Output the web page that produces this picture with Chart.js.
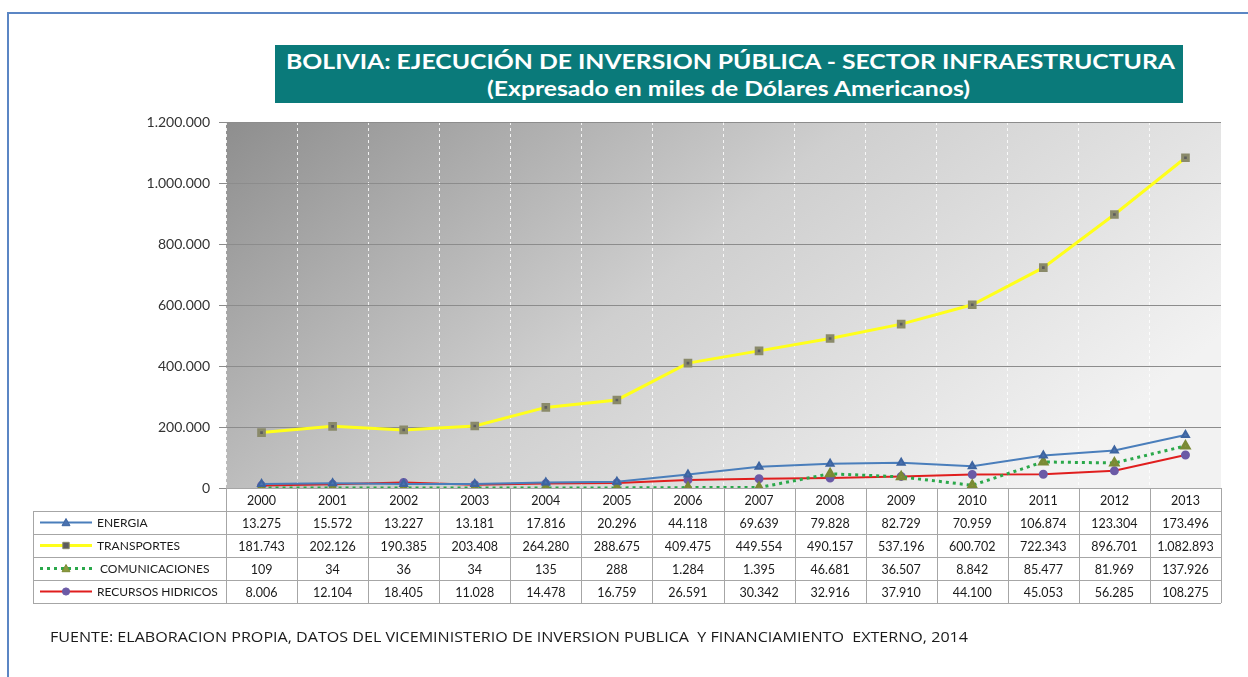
<!DOCTYPE html>
<html lang="es">
	<head>
		<meta charset="utf-8">
		<title>Bolivia - Inversión pública, sector infraestructura</title>
		<script src="https://cdnjs.cloudflare.com/ajax/libs/Chart.js/4.4.1/chart.umd.min.js"></script>
		<style>
			html, body { margin: 0; padding: 0; background: #fff; }
			body { width: 1248px; height: 677px; position: relative; overflow: hidden; font-family: "Lato", sans-serif; }
			#frame { position: absolute; left: 7px; top: 12px; width: 1300px; height: 700px; border-left: 2px solid #5b86c4; border-top: 2px solid #5b86c4; }
			#titlebox { position: absolute; left: 275px; top: 45px; width: 908px; height: 58px; background: #0a7a7a; color: #fff; font-weight: bold; }
			#titlebox span { position: absolute; white-space: pre; font-size: 21px; line-height: 24px; transform-origin: 0 50%; }
			#t1 { left: 11px; top: 4px; }
			#t2 { left: 212px; top: 31px; }
			#wrap { position: absolute; left: 0; top: 0; width: 1248px; height: 677px; }
			#fuente { position: absolute; left: 50px; top: 627px; font-family: "Open Sans", sans-serif; font-size: 14px; line-height: 20px; color: #1a1a1a; white-space: pre; transform-origin: 0 50%; }
		</style>
	</head>
	<body>
		<div id="frame"></div>
		<div id="titlebox">
			<span id="t1">BOLIVIA: EJECUCIÓN DE INVERSION PÚBLICA - SECTOR INFRAESTRUCTURA</span>
			<span id="t2">(Expresado en miles de Dólares Americanos)</span>
		</div>
		<div id="wrap"><canvas id="chart"></canvas></div>
		<span id="fuente">FUENTE: ELABORACION PROPIA, DATOS DEL VICEMINISTERIO DE INVERSION PUBLICA  Y FINANCIAMIENTO  EXTERNO, 2014</span>
		<script>
			// datos (miles de USD)
			const years = ["2000", "2001", "2002", "2003", "2004", "2005", "2006", "2007", "2008", "2009", "2010", "2011", "2012", "2013"]
			const energia = [13275, 15572, 13227, 13181, 17816, 20296, 44118, 69639, 79828, 82729, 70959, 106874, 123304, 173496]
			const transportes = [181743, 202126, 190385, 203408, 264280, 288675, 409475, 449554, 490157, 537196, 600702, 722343, 896701, 1082893]
			const comunicaciones = [109, 34, 36, 34, 135, 288, 1284, 1395, 46681, 36507, 8842, 85477, 81969, 137926]
			const recursos = [8006, 12104, 18405, 11028, 14478, 16759, 26591, 30342, 32916, 37910, 44100, 45053, 56285, 108275]
			const yTicks = [0, 200000, 400000, 600000, 800000, 1000000, 1200000]

			function fmt(n) {
				return String(n).replace(/\B(?=(\d{3})+(?!\d))/g, ".")
			}

			// estirar texto al ancho del original (Gill Sans es mas ancha)
			function fitWidth(id, width) {
				const el = document.getElementById(id)
				const w = el.getBoundingClientRect().width
				el.style.transform = "scaleX(" + (width / w) + ")"
			}

			// fondo degradado del area de trazado
			const plotBg = {
				id: "plotBg",
				beforeDraw(chart) {
					const {ctx, chartArea: a} = chart
					const g = ctx.createLinearGradient(a.left, a.top, a.left + 500, a.bottom + 250)
					g.addColorStop(0, "#8e8e8e")
					g.addColorStop(0.5, "#cfcfcf")
					g.addColorStop(1, "#f2f2f2")
					ctx.save()
					ctx.fillStyle = g
					ctx.fillRect(a.left, a.top, a.right - a.left, a.bottom - a.top)
					ctx.restore()
				}
			}

			function drawMarker(ctx, ds, x, y) {
				const r = 4
				ctx.save()
				ctx.fillStyle = ds.pointBackgroundColor
				ctx.strokeStyle = ds.pointBorderColor
				ctx.lineWidth = 1
				ctx.beginPath()
				if (ds.pointStyle == "triangle") {
					ctx.moveTo(x, y - r)
					ctx.lineTo(x + r, y + r * 0.8)
					ctx.lineTo(x - r, y + r * 0.8)
					ctx.closePath()
				} else if (ds.pointStyle == "rect") {
					ctx.rect(x - r * 0.8, y - r * 0.8, r * 1.6, r * 1.6)
				} else {
					ctx.arc(x, y, r * 0.9, 0, Math.PI * 2)
				}
				ctx.fill()
				ctx.stroke()
				ctx.restore()
			}

			// tabla de datos bajo el grafico
			const dataTable = {
				id: "dataTable",
				afterDraw(chart) {
					const {ctx, chartArea: a} = chart
					const xs = chart.scales.x
					const colW = (xs.right - xs.left) / years.length
					const rowH = 23
					const top = a.bottom
					const labelLeft = 33
					ctx.save()
					ctx.strokeStyle = "#a6a6a6"
					ctx.lineWidth = 1
					ctx.fillStyle = "#fff"
					ctx.fillRect(xs.left, top, xs.right - xs.left, rowH)
					ctx.fillRect(labelLeft, top + rowH, xs.right - labelLeft, rowH * 4)

					// lineas
					ctx.beginPath()
					ctx.moveTo(xs.left, top + 0.5)
					ctx.lineTo(xs.right, top + 0.5)
					for (let r = 1; r <= 5; r++) {
						ctx.moveTo(labelLeft, top + rowH * r + 0.5)
						ctx.lineTo(xs.right, top + rowH * r + 0.5)
					}
					ctx.moveTo(labelLeft + 0.5, top + rowH)
					ctx.lineTo(labelLeft + 0.5, top + rowH * 5)
					for (let i = 0; i <= years.length; i++) {
						const x = Math.round(xs.left + colW * i) + 0.5
						ctx.moveTo(x, top)
						ctx.lineTo(x, top + rowH * 5)
					}
					ctx.stroke()

					ctx.fillStyle = "#1a1a1a"
					ctx.textAlign = "center"
					ctx.textBaseline = "middle"
					ctx.font = "12.5px Lato"
					years.forEach((y, i) => {
						ctx.fillText(y, xs.getPixelForValue(i), top + rowH / 2 + 1)
					})
					chart.data.datasets.forEach((ds, r) => {
						const cy = top + rowH * (r + 1) + rowH / 2 + 1
						ctx.textAlign = "center"
						ctx.font = "12.5px Lato"
						ds.data.forEach((v, i) => {
							ctx.fillText(fmt(v), xs.getPixelForValue(i), cy)
						})
						// muestra de leyenda
						ctx.save()
						ctx.strokeStyle = ds.borderColor
						ctx.lineWidth = ds.borderWidth
						if (ds.borderDash) ctx.setLineDash(ds.borderDash)
						ctx.beginPath()
						ctx.moveTo(40, cy - 1)
						ctx.lineTo(92, cy - 1)
						ctx.stroke()
						ctx.restore()
						drawMarker(ctx, ds, 66, cy - 1)
						ctx.textAlign = "left"
						ctx.font = "12px Lato"
						ctx.fillText(ds.label, r == 2 ? 100 : 97, cy)
					})
					ctx.restore()
				}
			}

			new Chart(document.getElementById("chart"), {
				type: "line",
				data: {
					labels: years,
					datasets: [{
						label: "ENERGIA",
						data: energia,
						borderColor: "#4a7ebb",
						borderWidth: 2,
						pointStyle: "triangle",
						pointRadius: 4,
						pointBackgroundColor: "#4a72b0",
						pointBorderColor: "#3d64a0"
					}, {
						label: "TRANSPORTES",
						data: transportes,
						borderColor: "#ffff1a",
						borderWidth: 3,
						pointStyle: "rect",
						pointRadius: 4,
						pointBackgroundColor: "#5c5c5c",
						pointBorderColor: "#8a8a6a"
					}, {
						label: "COMUNICACIONES",
						data: comunicaciones,
						borderColor: "#2aa84a",
						borderWidth: 3,
						borderDash: [3, 4],
						pointStyle: "triangle",
						pointRadius: 4,
						pointBackgroundColor: "#8b9a3c",
						pointBorderColor: "#7a8a34"
					}, {
						label: "RECURSOS HIDRICOS",
						data: recursos,
						borderColor: "#e01e1e",
						borderWidth: 2,
						pointStyle: "circle",
						pointRadius: 3.5,
						pointBackgroundColor: "#6b5aa6",
						pointBorderColor: "#6b5aa6"
					}]
				},
				options: {
					responsive: true,
					maintainAspectRatio: false,
					animation: false,
					layout: {padding: {left: 0, top: 122, right: 27, bottom: 189}},
					plugins: {
						legend: {display: false},
						tooltip: {enabled: false}
					},
					scales: {
						x: {
							offset: true,
							grid: {offset: true, color: "rgba(255,255,255,0.85)", drawTicks: false},
							border: {display: false, dash: [3, 3]},
							ticks: {display: false},
							afterFit(scale) { scale.height = 0 }
						},
						y: {
							min: 0,
							max: 1200000,
							afterBuildTicks(scale) { scale.ticks = yTicks.map(v => ({value: v})) },
							grid: {color: "#8c8c8c", tickLength: 7, tickColor: "#8c8c8c"},
							border: {display: false},
							ticks: {
								color: "#333",
								font: {family: "Lato", size: 14},
								padding: 9,
								callback: v => fmt(v)
							},
							afterFit(scale) { scale.width = 226 }
						}
					}
				},
				plugins: [plotBg, dataTable]
			})

			fitWidth("t1", 889)
			fitWidth("t2", 483)
			fitWidth("fuente", 918)
		</script>
	</body>
</html>
